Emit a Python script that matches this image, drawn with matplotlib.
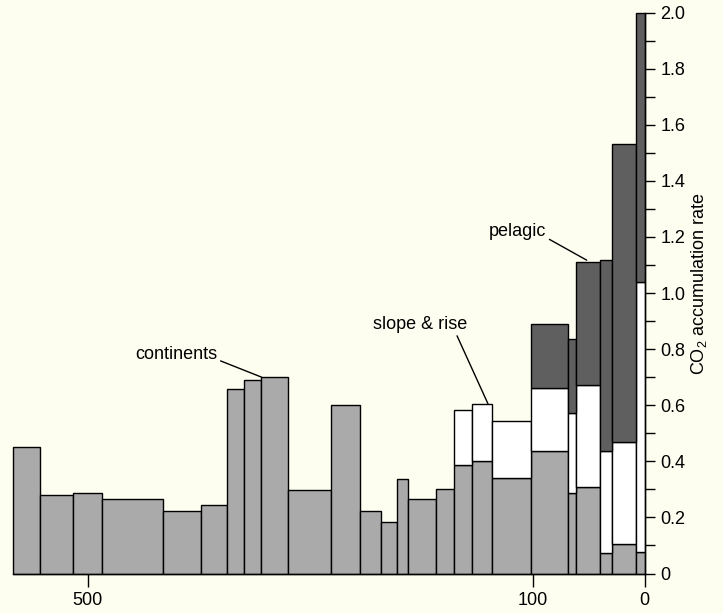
import numpy as np
import matplotlib
matplotlib.use("Agg")
import matplotlib.pyplot as plt

plt.rcParams['font.family'] = ['Liberation Sans', 'DejaVu Sans']
plt.rcParams['mathtext.fontset'] = 'custom'
plt.rcParams['mathtext.rm'] = 'Liberation Sans'
plt.rcParams['mathtext.it'] = 'Liberation Sans:italic'

# Interval boundaries (age, Ma), oldest to youngest
age_edges = [567, 543, 513, 487.7, 432.9, 398.5, 375.4, 359.6, 344.8, 320,
             282, 256, 237, 222.4, 212.2, 187, 171, 154.7, 137, 102.2,
             69, 61.3, 40.3, 29, 7.4, 0]

# CO2 accumulation rate per interval, by depositional setting
continents = [0.451, 0.280, 0.286, 0.266, 0.223, 0.244, 0.659, 0.689, 0.699,
              0.299, 0.601, 0.224, 0.184, 0.338, 0.265, 0.302, 0.386, 0.402,
              0.342, 0.436, 0.286, 0.310, 0.074, 0.105, 0.076]
slope_rise = [0] * 16 + [0.198, 0.201, 0.200, 0.224, 0.286, 0.363, 0.361,
                         0.364, 0.963]
pelagic = [0] * 19 + [0.228, 0.264, 0.437, 0.683, 1.061, 0.961]

x_ticks = [500, 100, 0]
x_ticklabels = ['500', '100', '0']
y_ticks = [0, 0.2, 0.4, 0.6, 0.8, 1.0, 1.2, 1.4, 1.6, 1.8, 2.0]
y_ticklabels = ['0', '0.2', '0.4', '0.6', '0.8', '1.0', '1.2', '1.4', '1.6',
                '1.8', '2.0']

bg = '#fefef0'
fig = plt.figure(figsize=(7.23, 6.14), dpi=100, facecolor=bg)
ax = fig.add_axes([13.3 / 723, 40.5 / 614, 631.2 / 723, 561 / 614])
ax.set_facecolor(bg)

edges = np.array(age_edges, dtype=float)
centers = (edges[:-1] + edges[1:]) / 2
widths = edges[:-1] - edges[1:]
c = np.array(continents)
s = np.array(slope_rise)
p = np.array(pelagic)

bar_kw = dict(edgecolor='black', linewidth=1.0, align='center', clip_on=False)
ax.bar(centers, c, widths, color='#aaaaaa', **bar_kw)
m = s > 0
ax.bar(centers[m], s[m], widths[m], bottom=c[m], color='white', **bar_kw)
m = p > 0
ax.bar(centers[m], p[m], widths[m], bottom=(c + s)[m], color='#5f5f5f', **bar_kw)

ax.set_xlim(edges[0], edges[-1])
ax.set_ylim(0, 2.0)

for side in ('top', 'left'):
    ax.spines[side].set_visible(False)
ax.spines['right'].set_linewidth(1.0)
ax.spines['bottom'].set_linewidth(1.0)

ax.set_xticks(x_ticks)
ax.set_xticklabels(x_ticklabels)
ax.yaxis.tick_right()
ax.yaxis.set_label_position('right')
ax.set_yticks(y_ticks)
ax.set_yticklabels(y_ticklabels)
ax.set_yticks(np.arange(0.1, 2.0, 0.2), minor=True)
ax.tick_params(axis='x', direction='out', length=9, width=1.0, pad=4,
               labelsize=13)
ax.tick_params(axis='y', which='both', direction='out', length=7.5, width=1.0,
               pad=4, labelsize=13)

ax.set_ylabel('CO$_2$ accumulation rate', fontsize=13)
ax.yaxis.set_label_coords(1.0705, 0.516)

line_kw = dict(arrowstyle='-', color='black', lw=1.0, shrinkA=0, shrinkB=0)
ax.annotate('continents', xy=(344.0, 0.700), xytext=(383.3, 0.780),
            ha='right', va='center', fontsize=13,
            arrowprops=dict(relpos=(1.0, 0.2), **line_kw))
ax.annotate('slope & rise', xy=(140.6, 0.605), xytext=(201.7, 0.8875),
            ha='center', va='center', fontsize=13,
            arrowprops=dict(relpos=(0.88, 0.0), **line_kw))
ax.annotate('pelagic', xy=(51.9, 1.117), xytext=(113.7, 1.221),
            ha='center', va='center', fontsize=13,
            arrowprops=dict(relpos=(1.0, 0.1), **line_kw))

fig.savefig('out.png', dpi=100, facecolor=bg)
